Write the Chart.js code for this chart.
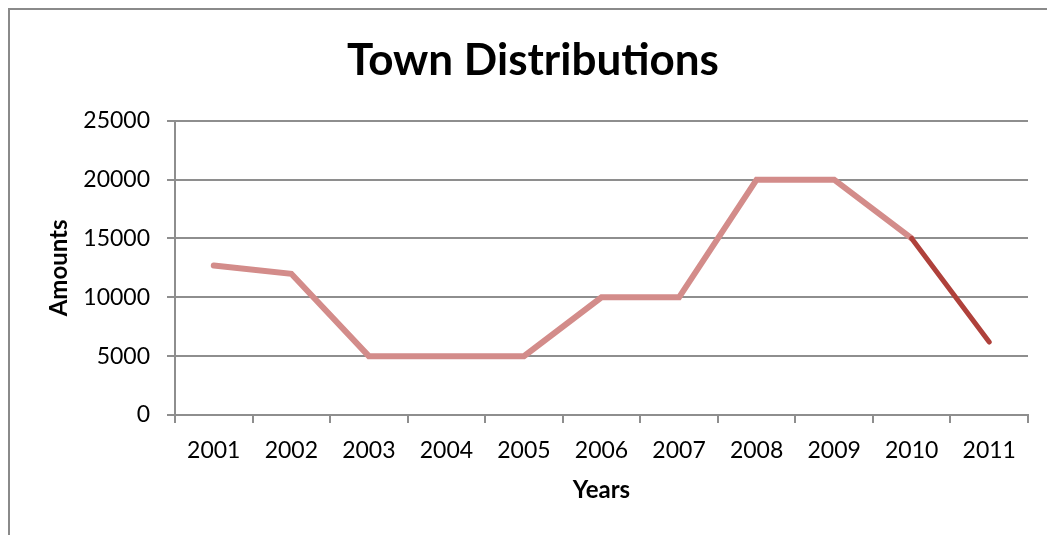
<!DOCTYPE html>
<html>
<head>
<meta charset="utf-8">
<script src="https://cdn.jsdelivr.net/npm/chart.js@4/dist/chart.umd.min.js"></script>
<style>
  html, body { margin: 0; padding: 0; background: #fff; }
  #wrap { position: absolute; left: 0; top: 0; width: 1047px; height: 535px; }
</style>
</head>
<body>
<div id="wrap"><canvas id="c" width="1047" height="535"></canvas></div>
<script>
const chartTitle = "Town Distributions";
const xAxisTitle = "Years";
const yAxisTitle = "Amounts";
const years = ["2001", "2002", "2003", "2004", "2005", "2006", "2007", "2008", "2009", "2010", "2011"];
const amounts = [12700, 12000, 5000, 5000, 5000, 10000, 10000, 20000, 20000, 15000, 6200];
const yTicks = [0, 5000, 10000, 15000, 20000, 25000];

const PINK = "#D38C8A";
const DARK = "#AF413B";
const GRID = "#8E8E8E";
const FONT = "Lato, 'Open Sans', sans-serif";

const framePlugin = {
  id: "frame",
  afterLayout(chart) {
    const t = chart.titleBlock;
    if (t) { t.left += 14; t.right += 14; }
  },
  beforeDraw(chart) {
    const ctx = chart.ctx;
    ctx.save();
    ctx.fillStyle = "#fff";
    ctx.fillRect(0, 0, chart.width, chart.height);
    ctx.strokeStyle = "#8A8A8A";
    ctx.lineWidth = 2;
    ctx.strokeRect(9, 9, 1200, 800);
    ctx.restore();
  }
};

new Chart(document.getElementById("c"), {
  type: "line",
  data: {
    labels: years,
    datasets: [{
      data: amounts,
      borderColor: PINK,
      borderWidth: 6,
      borderCapStyle: "round",
      borderJoinStyle: "miter",
      pointRadius: 0,
      pointHoverRadius: 0,
      tension: 0,
      fill: false,
      segment: {
        borderColor: ctx => ctx.p0DataIndex === years.length - 2 ? DARK : PINK,
        borderWidth: ctx => ctx.p0DataIndex === years.length - 2 ? 5 : 6
      }
    }]
  },
  options: {
    responsive: false,
    animation: false,
    events: [],
    layout: { padding: { left: 10, right: 19, top: 0, bottom: 0 } },
    plugins: {
      legend: { display: false },
      tooltip: { enabled: false },
      title: {
        display: true,
        text: chartTitle,
        color: "#000",
        font: { family: FONT, size: 44, weight: "bold", lineHeight: 1.2 },
        padding: { top: 34, bottom: 34 }
      }
    },
    scales: {
      x: {
        type: "category",
        offset: true,
        grid: { offset: true, drawOnChartArea: false, drawTicks: true, tickLength: 8, color: GRID, lineWidth: 2 },
        border: { display: true, color: GRID, width: 2 },
        ticks: { color: "#000", font: { family: FONT, size: 23 }, padding: 14, maxRotation: 0, autoSkip: false },
        title: { display: true, text: xAxisTitle, color: "#000", font: { family: FONT, size: 24, weight: "bold", lineHeight: 1.2 }, padding: { top: 0, bottom: 30 } },
        afterFit(scale) { scale.height = 120; }
      },
      y: {
        min: 0,
        max: 25000,
        afterBuildTicks(scale) { scale.ticks = yTicks.map(v => ({ value: v })); },
        grid: { color: GRID, lineWidth: 2, tickLength: 8, drawTicks: true },
        border: { display: true, color: GRID, width: 2 },
        ticks: { color: "#000", font: { family: FONT, size: 23 }, padding: 17, callback: v => String(v) },
        title: { display: true, text: yAxisTitle, color: "#000", font: { family: FONT, size: 24, weight: "bold", lineHeight: 1.2 }, padding: { top: 35, bottom: 0 } },
        afterFit(scale) { scale.width = 165; }
      }
    }
  },
  plugins: [framePlugin]
});
</script>
</body>
</html>
